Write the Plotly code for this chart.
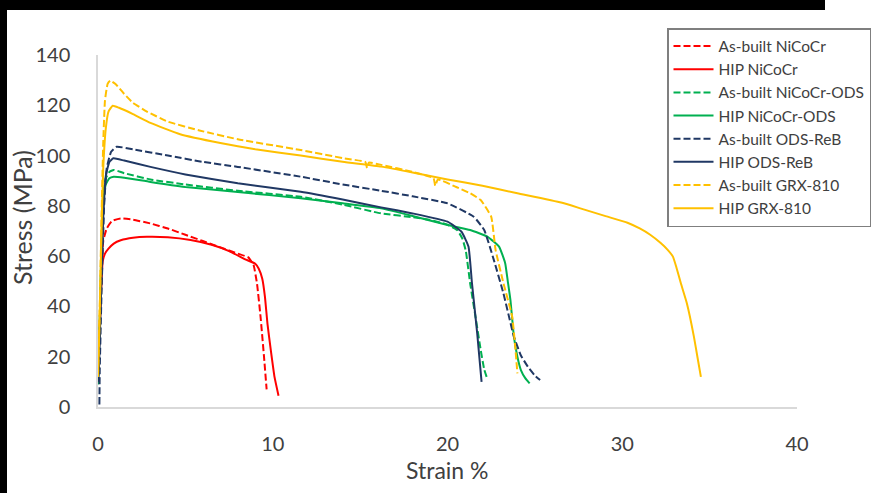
import plotly.graph_objects as go

# ---- tensile test curves: strain (%) vs engineering stress (MPa) ----
asb_nicocr_strain = [0.0, 0.1, 0.2, 0.3, 0.5, 0.8, 1.3, 2.0, 3.0, 4.0, 5.0, 6.0, 7.0, 8.0, 8.6, 8.9, 9.1, 9.3, 9.5, 9.65]
asb_nicocr_stress = [12, 32, 52, 66, 71, 74, 75, 74.5, 73, 71, 68.5, 66, 63.5, 61, 59.5, 56.5, 49, 36, 20, 7]

hip_nicocr_strain = [0.0, 0.1, 0.2, 0.27, 0.4, 0.6, 0.9, 1.3, 2.0, 2.8, 4.0, 5.3, 6.5, 7.5, 8.5, 9.0, 9.2, 9.4, 9.55, 9.7, 9.9, 10.1, 10.33]
hip_nicocr_stress = [12, 32, 50, 58, 61, 63, 65, 66.3, 67.3, 67.7, 67.5, 66.4, 64.5, 62, 58.5, 57, 55, 51, 44, 33, 22, 12, 4.5]

asb_ods_strain = [0.0, 0.1, 0.2, 0.3, 0.45, 0.65, 0.9, 1.5, 3, 5, 8, 11.6, 14, 16.2, 18, 19, 20, 20.55, 20.85, 21.05, 21.3, 21.6, 21.9, 22.1, 22.3]
asb_ods_stress = [10, 35, 65, 85, 91, 93.5, 94.3, 93, 90.5, 88.5, 86, 83.6, 80.5, 77, 75.5, 74.4, 72.5, 70.4, 67, 62, 49, 36, 22.7, 15, 10.7]

hip_ods_strain = [0.0, 0.1, 0.2, 0.3, 0.45, 0.65, 0.9, 1.5, 3, 5, 8, 11.6, 14, 16.2, 18, 20, 21.3, 22.3, 22.95, 23.3, 23.45, 23.6, 23.8, 24.0, 24.2, 24.45, 24.7]
hip_ods_stress = [9, 33, 62, 82, 88.5, 91, 91.6, 91.2, 89.5, 87.5, 85.5, 83, 81, 79, 76, 72.4, 70.4, 67.7, 63.8, 57.2, 50, 42.6, 28, 20, 14.7, 11.5, 9.4]

asb_reb_strain = [0.08, 0.1, 0.2, 0.35, 0.5, 0.75, 1.07, 2, 4, 6, 8, 11.6, 14, 16.2, 18, 20, 21.5, 22.1, 22.65, 23.2, 23.8, 24.2, 24.6, 25.0, 25.3]
asb_reb_stress = [1, 15, 45, 80, 95, 101.5, 103.5, 102.5, 100, 97.5, 95.5, 91.6, 88.5, 86, 83.8, 81, 75.7, 70.4, 58.5, 45.2, 28, 20.5, 16, 12.5, 10.7]

hip_reb_strain = [0.0, 0.05, 0.15, 0.3, 0.45, 0.65, 0.88, 1.5, 3, 5, 8, 11.6, 14, 16.2, 18, 20, 20.8, 21.2, 21.4, 21.7, 21.95]
hip_reb_stress = [10, 14, 40, 75, 92, 97.5, 98.9, 98, 95.5, 92.5, 89, 85.6, 82.5, 79.4, 77, 73.7, 69.7, 63.8, 49.2, 29.3, 10]

asb_grx_strain = [0.0, 0.1, 0.2, 0.3, 0.4, 0.55, 0.7, 1.0, 1.5, 2.0, 2.8, 4, 5.8, 8, 11.6, 14, 15.3, 15.4, 15.5, 16.2, 18, 19.2,
                  19.3, 19.45, 20.5, 21.3, 21.9, 22.5, 22.75, 23.2, 23.7, 23.9, 24.0]
asb_grx_stress = [12, 40, 75, 105, 122, 128.5, 129.8, 128.5, 124.5, 121, 117.5, 113.5, 110, 106.5, 102.2, 99, 97.4, 95, 97.2, 96.3, 93.5, 91,
                  88, 90.5, 87.5, 85, 82.3, 75.7, 62.5, 49.3, 36, 22, 13.4]

hip_grx_strain = [0.0, 0.1, 0.2, 0.3, 0.45, 0.6, 0.84, 1.2, 2, 3, 4.7, 7, 9, 11.6, 14, 16.2, 18, 20, 22, 24, 26.5, 27.6, 29, 30.3,
                  31.0, 31.6, 32.2, 32.6, 32.9, 33.1, 33.35, 33.7, 34.1, 34.3, 34.5]
hip_grx_stress = [12, 38, 70, 95, 111, 117.5, 119.8, 119, 116.5, 113, 108.5, 105, 102.5, 100, 97.5, 95.6, 93.3, 90.5, 88, 85, 81.3, 79, 76, 73.3,
                  71.0, 68.5, 65.2, 62.5, 59.8, 55.5, 49.3, 41.2, 28, 20, 12]

series_names = ["As-built NiCoCr", "HIP NiCoCr", "As-built NiCoCr-ODS", "HIP NiCoCr-ODS",
                "As-built ODS-ReB", "HIP ODS-ReB", "As-built GRX-810", "HIP GRX-810"]
series_x = [asb_nicocr_strain, hip_nicocr_strain, asb_ods_strain, hip_ods_strain,
            asb_reb_strain, hip_reb_strain, asb_grx_strain, hip_grx_strain]
series_y = [asb_nicocr_stress, hip_nicocr_stress, asb_ods_stress, hip_ods_stress,
            asb_reb_stress, hip_reb_stress, asb_grx_stress, hip_grx_stress]
series_colors = ["#FF0000", "#FF0000", "#00B050", "#00B050", "#203864", "#203864", "#FFC000", "#FFC000"]
series_dash = ["7px,3px", "solid", "7px,3px", "solid", "7px,3px", "solid", "7px,3px", "solid"]

x_ticks = [0, 10, 20, 30, 40]
y_ticks = [0, 20, 40, 60, 80, 100, 120, 140]

W, H = 882, 493
L, R, T, B = 98, 85, 55, 86
PW, PH = W - L - R, H - T - B


def px(x):
    return (x - L) / PW


def py(y):
    return 1 - (y - T) / PH


FONT = "Lato, 'Open Sans', sans-serif"
TXT = "#404040"

fig = go.Figure()
for name, xs, ys, col, dash in zip(series_names, series_x, series_y, series_colors, series_dash):
    fig.add_trace(go.Scatter(x=xs, y=ys, mode="lines", name=name,
                             line=dict(color=col, width=2, dash=dash, shape="spline", smoothing=0.4)))

fig.update_layout(
    width=W, height=H,
    margin=dict(l=L, r=R, t=T, b=B, autoexpand=False),
    paper_bgcolor="white", plot_bgcolor="white",
    font=dict(family=FONT, color=TXT),
    showlegend=True,
    legend=dict(x=px(667), y=py(28), xanchor="left", yanchor="top",
                bgcolor="white", bordercolor="#7f7f7f", borderwidth=1.5,
                font=dict(family=FONT, size=15.5, color=TXT),
                tracegroupgap=0, itemwidth=40),
    xaxis=dict(range=[0, 40], tickvals=x_ticks, showgrid=False, zeroline=False,
               showline=True, linecolor="#d9d9d9", linewidth=1.5,
               ticks="", ticklabelstandoff=18,
               tickfont=dict(family=FONT, size=20, color=TXT)),
    yaxis=dict(range=[0, 140], tickvals=y_ticks, showgrid=False, zeroline=False,
               showline=True, linecolor="#d9d9d9", linewidth=1.5,
               ticks="", ticklabelstandoff=22,
               tickfont=dict(family=FONT, size=20, color=TXT)),
    annotations=[
        dict(text="Strain %", xref="paper", yref="paper", x=px(447), y=py(470),
             xanchor="center", yanchor="middle", showarrow=False,
             font=dict(family=FONT, size=23, color=TXT)),
        dict(text="Stress (MPa)", xref="paper", yref="paper", x=px(22), y=py(218),
             xanchor="center", yanchor="middle", showarrow=False, textangle=-90,
             font=dict(family=FONT, size=25, color=TXT)),
    ],
    shapes=[
        # black frame strips along the left and top edges
        dict(type="rect", xref="paper", yref="paper", layer="above",
             x0=px(-5), x1=px(7), y0=py(H + 5), y1=py(-5),
             fillcolor="black", line=dict(width=0)),
        dict(type="rect", xref="paper", yref="paper", layer="above",
             x0=px(-5), x1=px(825), y0=py(10), y1=py(-5),
             fillcolor="black", line=dict(width=0)),
    ],
)

fig.write_html("out.html")
